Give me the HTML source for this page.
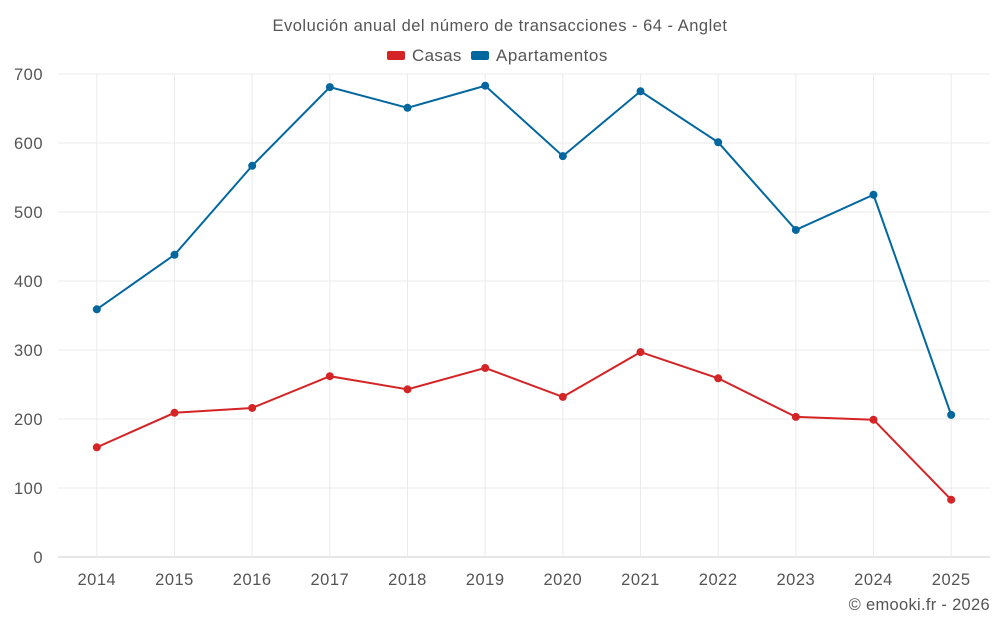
<!DOCTYPE html>
<html><head><meta charset="utf-8"><style>
body{margin:0;background:#fff;font-family:"Liberation Sans",sans-serif;}
svg text{font-family:"Liberation Sans",sans-serif;fill:#555;}
</style></head><body>
<svg id="chart" width="1000" height="625">
<text x="500" y="31" text-anchor="middle" font-size="16.5" letter-spacing="0.5">Evolución anual del número de transacciones - 64 - Anglet</text>
<g>
<g><rect x="387" y="51" width="18" height="9" rx="2" fill="#d42426"/><text x="412" y="61" font-size="17" letter-spacing="0.3">Casas</text></g>
<g><rect x="471" y="51" width="18" height="9" rx="2" fill="#02679f"/><text x="496" y="61" font-size="17" letter-spacing="0.5">Apartamentos</text></g>
</g>
<g id="grid"></g><g id="axes"></g><g id="series"></g>
<text x="990" y="610" text-anchor="end" font-size="16.5" letter-spacing="0.3">© emooki.fr - 2026</text>
</svg>
<script>
const years=["2014","2015","2016","2017","2018","2019","2020","2021","2022","2023","2024","2025"];
const casas=[159,209,216,262,243,274,232,297,259,203,199,83];
const apartamentos=[359,438,567,681,651,683,581,675,601,474,525,206];
const yTicks=[0,100,200,300,400,500,600,700];
const NS="http://www.w3.org/2000/svg";
const L=58,R=990,T=74,B=557;
const x=i=>L+(R-L)*(i+0.5)/years.length;
const y=v=>B-(B-T)*v/700;
function mk(t,a,p){const e=document.createElementNS(NS,t);for(const k in a)e.setAttribute(k,a[k]);p.appendChild(e);return e;}
const g=document.getElementById('grid'),ax=document.getElementById('axes'),s=document.getElementById('series');
yTicks.forEach(v=>{
 const l=mk('line',{x1:L,x2:R,y1:y(v),y2:y(v),stroke:v===0?'#ccc':'#ebebeb'},g);
 
 
 const t=mk('text',{x:L-15,y:y(v)+6,'text-anchor':'end','font-size':16.5,'letter-spacing':0.5},ax);t.textContent=v;
 
 
});
years.forEach((yr,i)=>{
 const l=mk('line',{x1:x(i),x2:x(i),y1:T,y2:B,stroke:'#ebebeb'},g);
 
 
 const t=mk('text',{x:x(i),y:585,'text-anchor':'middle','font-size':16.5,'letter-spacing':0.5},ax);t.textContent=yr;
 
 
});
[[apartamentos,'#02679f','apartamentos'],[casas,'#d42426','casas']].forEach(([d,c,n])=>{
 const p=mk('polyline',{points:d.map((v,i)=>x(i)+','+y(v)).join(' '),fill:'none',stroke:c,'stroke-width':2},s);
 
 
 d.forEach((v,i)=>{const ci=mk('circle',{cx:x(i),cy:y(v),r:4,fill:c},s);
 
 });
});
</script>
</body></html>
